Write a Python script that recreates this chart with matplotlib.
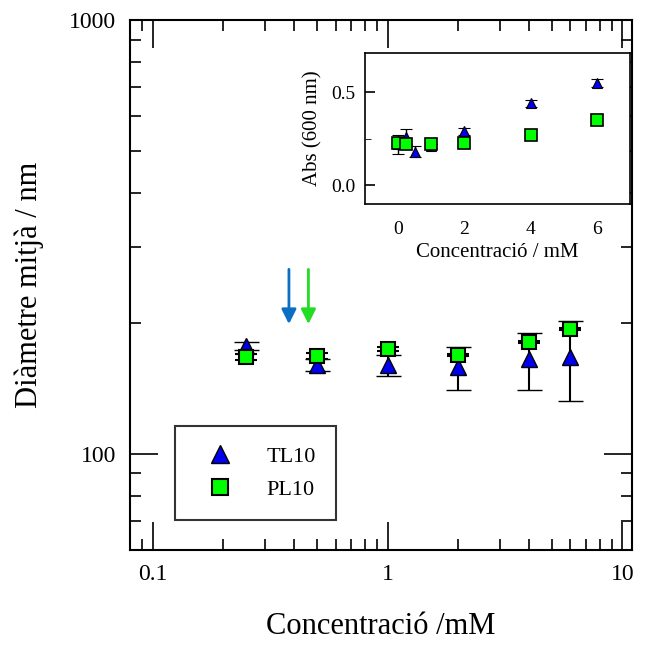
import matplotlib
matplotlib.use("Agg")
import matplotlib.pyplot as plt
from matplotlib.lines import Line2D
from matplotlib.ticker import LogLocator, NullFormatter, FixedLocator

plt.rcParams['font.family'] = ['Liberation Serif', 'DejaVu Serif']

# main chart data
conc = [0.25, 0.5, 1, 2, 4, 6]
tl10_diam = [177, 160, 160, 158, 165, 167]
tl10_err = [4, 5, 9, 18, 25, 35]
pl10_diam = [167, 168, 174, 169, 181, 194]
pl10_err = [3, 3, 2, 1, 1, 1]

# arrows (x position, top, bottom)
arrow_x = [0.38, 0.46]
arrow_colors = ['#0a6fc2', '#22dd22']
arrow_top = 270
arrow_bottom = 196

# inset data
ins_tl_x = [0, 0.25, 0.5, 1, 2, 4, 6]
ins_tl_abs = [0.22, 0.26, 0.18, 0.21, 0.29, 0.44, 0.55]
ins_tl_err = [0.05, 0.04, 0.03, 0.01, 0.02, 0.02, 0.02]
ins_pl_x = [0, 0.25, 1, 2, 4, 6]
ins_pl_abs = [0.23, 0.22, 0.22, 0.23, 0.27, 0.35]
ins_pl_err = [0.02, 0.02, 0.02, 0.02, 0.01, 0.01]

fig = plt.figure(figsize=(6.47, 6.46), dpi=100)
ax = fig.add_axes([0.201, 0.149, 0.776, 0.82])

ax.errorbar(conc, tl10_diam, yerr=tl10_err, fmt='^', color='#0000ee', mec='black', mew=1,
            ms=12, ecolor='black', elinewidth=1.5, capsize=9, capthick=1.5, zorder=3)
ax.errorbar(conc, pl10_diam, yerr=pl10_err, fmt='s', color='#00ff00', mec='black', mew=1.5,
            ms=10, ecolor='black', elinewidth=1.5, capsize=8, capthick=1.5, zorder=4)

for x, c in zip(arrow_x, arrow_colors):
    ax.annotate('', xy=(x, arrow_bottom), xytext=(x, arrow_top),
                arrowprops=dict(arrowstyle='-|>', color=c, lw=2, mutation_scale=22))

ax.set_xscale('log')
ax.set_yscale('log')
ax.set_xlim(0.08, 11)
ax.set_ylim(60, 1000)
ax.xaxis.set_major_locator(FixedLocator([0.1, 1, 10]))
ax.yaxis.set_major_locator(FixedLocator([100, 1000]))
ax.set_xticklabels(['0.1', '1', '10'])
ax.set_yticklabels(['100', '1000'])
ax.xaxis.set_minor_locator(LogLocator(base=10, subs=range(2, 10)))
ax.yaxis.set_minor_locator(LogLocator(base=10, subs=range(2, 10)))
ax.xaxis.set_minor_formatter(NullFormatter())
ax.yaxis.set_minor_formatter(NullFormatter())
ax.tick_params(which='both', direction='in', top=True, right=True, labelsize=17, width=1.2, pad=10)
ax.tick_params(which='major', length=20)
ax.tick_params(which='minor', length=8)
for s in ax.spines.values():
    s.set_linewidth(1.5)

ax.set_xlabel('Concentració /mM', fontsize=22, labelpad=20)
ax.set_ylabel('Diàmetre mitjà / nm', fontsize=22, labelpad=18)

handles = [Line2D([], [], ls='none', marker='^', color='#0000ee', mec='black', mew=1, ms=13),
           Line2D([], [], ls='none', marker='s', color='#00ff00', mec='black', mew=1.5, ms=11)]
leg = ax.legend(handles, ['TL10', 'PL10'], loc='lower left', bbox_to_anchor=(0.09, 0.057),
                fontsize=16, frameon=True, fancybox=False, edgecolor='black', borderpad=0.9,
                labelspacing=0.55, handlelength=2.2, handletextpad=1.0, borderaxespad=0,
                numpoints=1)
leg.get_frame().set_linewidth(1.5)

# inset
ins = fig.add_axes([0.564, 0.684, 0.41, 0.234])
ins.errorbar(ins_tl_x, ins_tl_abs, yerr=ins_tl_err, fmt='^', color='#0000ee', mec='black', mew=0.8,
             ms=6.5, ecolor='black', elinewidth=1, capsize=4, capthick=1, zorder=3)
ins.errorbar(ins_pl_x, ins_pl_abs, yerr=ins_pl_err, fmt='s', color='#00ff00', mec='black', mew=1.2,
             ms=8, ecolor='black', elinewidth=1, capsize=4, capthick=1, zorder=4)
ins.set_xlim(-1, 7)
ins.set_ylim(-0.1, 0.71)
ins.set_xticks([0, 2, 4, 6])
ins.set_yticks([0.0, 0.5])
ins.set_yticklabels(['0.0', '0.5'])
ins.set_yticks([0.25], minor=True)
ins.tick_params(which='both', direction='in', labelsize=14, pad=7)
ins.tick_params(axis='x', length=0, pad=12)
ins.tick_params(axis='y', which='major', length=7, width=1.2)
ins.tick_params(axis='y', which='minor', length=4)
for s in ins.spines.values():
    s.set_linewidth(1.2)
ins.set_xlabel('Concentració / mM', fontsize=15, labelpad=4)
ins.set_ylabel('Abs (600 nm)', fontsize=15, labelpad=6)

fig.savefig('out.png', dpi=100)
